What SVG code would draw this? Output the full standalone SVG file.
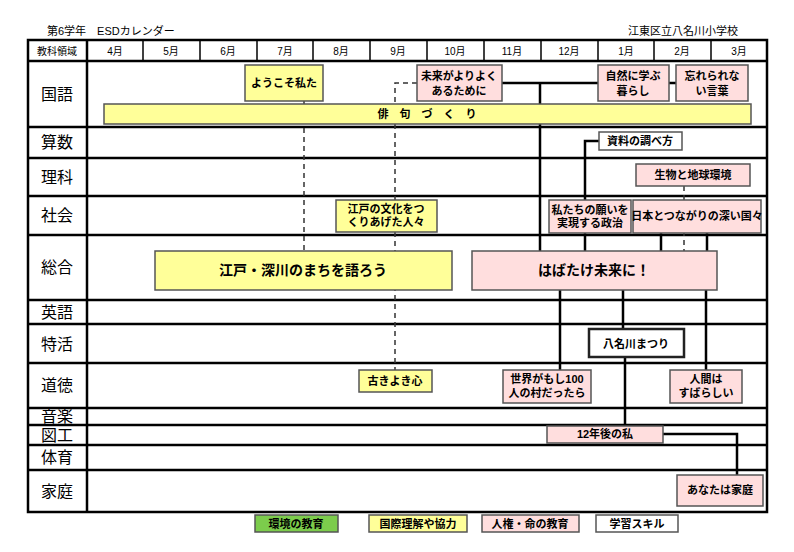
<svg xmlns="http://www.w3.org/2000/svg" width="794" height="552" viewBox="0 0 794 552">
<style>
text{font-family:"Liberation Sans","Noto Sans CJK JP",sans-serif;fill:#000}
.n rect{stroke:#555;stroke-width:1.5}
.y{fill:#ffff99}.p{fill:#ffdede}.w{fill:#fff}.g{fill:#7ccc4c}
.t{font-size:11px;font-weight:bold;text-anchor:middle}
.big{font-size:14px;font-weight:bold;text-anchor:middle}
.rl{font-size:16px;text-anchor:middle}
.mh{font-size:10px;text-anchor:middle}
.grid{stroke:#000;stroke-width:2.5;fill:none}
.c{stroke:#000;stroke-width:2.5;fill:none}
.d{stroke:#333;stroke-width:1.5;stroke-dasharray:5,4;fill:none}
</style>
<rect width="794" height="552" fill="#fff"/>
<text x="47" y="35" font-size="11">第6学年　ESDカレンダー</text>
<text x="738" y="35" font-size="11" text-anchor="end">江東区立八名川小学校</text>
<g id="grid">
<rect x="28" y="40" width="739" height="472" class="grid" stroke-width="3"/>
<line x1="87" y1="40" x2="87" y2="512" class="grid"/>
<g stroke="#000" stroke-width="1.5">
<line x1="143" y1="40" x2="143" y2="61"/><line x1="200" y1="40" x2="200" y2="61"/><line x1="257" y1="40" x2="257" y2="61"/><line x1="313" y1="40" x2="313" y2="61"/><line x1="370" y1="40" x2="370" y2="61"/><line x1="427" y1="40" x2="427" y2="61"/><line x1="484" y1="40" x2="484" y2="61"/><line x1="541" y1="40" x2="541" y2="61"/><line x1="598" y1="40" x2="598" y2="61"/><line x1="654" y1="40" x2="654" y2="61"/><line x1="711" y1="40" x2="711" y2="61"/>
</g>
<g class="grid" stroke-width="2">
<line x1="28" y1="61" x2="767" y2="61"/><line x1="28" y1="127" x2="767" y2="127"/><line x1="28" y1="158" x2="767" y2="158"/><line x1="28" y1="196" x2="767" y2="196"/><line x1="28" y1="235" x2="767" y2="235"/><line x1="28" y1="300" x2="767" y2="300"/><line x1="28" y1="324" x2="767" y2="324"/><line x1="28" y1="363" x2="767" y2="363"/><line x1="28" y1="408" x2="767" y2="408"/><line x1="28" y1="425" x2="767" y2="425"/><line x1="28" y1="445" x2="767" y2="445"/><line x1="28" y1="470" x2="767" y2="470"/>
</g>
<text x="57" y="55" class="mh">教科領域</text>
<text x="115" y="55" class="mh">4月</text><text x="171" y="55" class="mh">5月</text><text x="228" y="55" class="mh">6月</text><text x="285" y="55" class="mh">7月</text><text x="341" y="55" class="mh">8月</text><text x="398" y="55" class="mh">9月</text><text x="455" y="55" class="mh">10月</text><text x="512" y="55" class="mh">11月</text><text x="569" y="55" class="mh">12月</text><text x="626" y="55" class="mh">1月</text><text x="682" y="55" class="mh">2月</text><text x="739" y="55" class="mh">3月</text>
<text x="57" y="100" class="rl">国語</text><text x="57" y="148" class="rl">算数</text><text x="57" y="183" class="rl">理科</text><text x="57" y="221" class="rl">社会</text><text x="57" y="273" class="rl">総合</text><text x="57" y="318" class="rl">英語</text><text x="57" y="350" class="rl">特活</text><text x="57" y="391" class="rl">道徳</text><text x="57" y="422" class="rl" font-size="14">音楽</text><text x="57" y="441" class="rl" font-size="14">図工</text><text x="57" y="463" class="rl">体育</text><text x="57" y="497" class="rl">家庭</text>
</g>
<g id="connectors">
<path class="d" d="M304 101V251"/>
<path class="d" d="M417 83H395V370"/>
<path class="c" d="M502 83H598M669 83H676M540 83V251"/>
<path class="c" d="M599 141H585V251"/>
<path class="d" d="M684 186V251"/>
<path class="c" d="M661 233V251M707 233V251"/>
<path class="c" d="M560 290V370M623 290V329M706 290V370"/>
<path class="c" stroke-width="1.5" d="M625 357V426"/>
<path class="c" stroke-width="1.5" d="M663 434H737V475"/>
</g>
<g id="n1" class="n"><rect x="245" y="65" width="78" height="36" class="y"/><text x="284" y="87" class="t">ようこそ私た</text></g>
<g id="n2" class="n"><rect x="417" y="65" width="85" height="36" class="p"/><text x="459" y="80" class="t">未来がよりよく</text><text x="459" y="95" class="t">あるために</text></g>
<g id="n3" class="n"><rect x="598" y="65" width="71" height="36" class="p"/><text x="633" y="80" class="t">自然に学ぶ</text><text x="633" y="95" class="t">暮らし</text></g>
<g id="n4" class="n"><rect x="676" y="65" width="72" height="36" class="p"/><text x="712" y="80" class="t">忘れられな</text><text x="712" y="95" class="t">い言葉</text></g>
<g id="n5" class="n"><rect x="104" y="104" width="647" height="20" class="y"/><text x="427" y="118" class="t" xml:space="preserve">俳　句　づ　く　り</text></g>
<g id="n6" class="n"><rect x="599" y="132" width="83" height="18" class="w"/><text x="640" y="145" class="t">資料の調べ方</text></g>
<g id="n7" class="n"><rect x="636" y="164" width="114" height="22" class="p"/><text x="693" y="179" class="t">生物と地球環境</text></g>
<g id="n8" class="n"><rect x="336" y="200" width="101" height="32" class="y"/><text x="386" y="213" class="t">江戸の文化をつ</text><text x="386" y="226" class="t">くりあげた人々</text></g>
<g id="n9" class="n"><rect x="549" y="200" width="82" height="33" class="p"/><text x="590" y="214" class="t" font-size="9.5">私たちの願いを</text><text x="590" y="227" class="t" font-size="9.5">実現する政治</text></g>
<g id="n10" class="n"><rect x="633" y="200" width="128" height="33" class="p"/><text x="697" y="220" class="t" font-size="10">日本とつながりの深い国々</text></g>
<g id="n11" class="n"><rect x="155" y="251" width="297" height="39" class="y"/><text x="303" y="275" class="big">江戸・深川のまちを語ろう</text></g>
<g id="n12" class="n"><rect x="472" y="251" width="245" height="39" class="p"/><text x="594" y="275" class="big">はばたけ未来に！</text></g>
<g id="n13" class="n"><rect x="589" y="329" width="95" height="28" class="w" style="stroke:#222;stroke-width:2.5"/><text x="636" y="348" class="t" font-size="12">八名川まつり</text></g>
<g id="n14" class="n"><rect x="359" y="370" width="73" height="22" class="y"/><text x="395" y="385" class="t">古きよき心</text></g>
<g id="n15" class="n"><rect x="503" y="370" width="88" height="33" class="p"/><text x="547" y="383" class="t">世界がもし100</text><text x="547" y="397" class="t">人の村だったら</text></g>
<g id="n16" class="n"><rect x="670" y="370" width="72" height="33" class="p"/><text x="706" y="383" class="t">人間は</text><text x="706" y="397" class="t">すばらしい</text></g>
<g id="n17" class="n"><rect x="547" y="426" width="116" height="17" class="p"/><text x="605" y="438" class="t">12年後の私</text></g>
<g id="n18" class="n"><rect x="677" y="475" width="86" height="31" class="p"/><text x="720" y="494" class="t">あなたは家庭</text></g>
<g id="legend" class="n">
<rect x="255" y="515" width="83" height="17" class="g"/><text x="296" y="528" class="t">環境の教育</text>
<rect x="369" y="515" width="98" height="17" class="y"/><text x="418" y="528" class="t">国際理解や協力</text>
<rect x="482" y="515" width="97" height="17" class="p"/><text x="530" y="528" class="t">人権・命の教育</text>
<rect x="596" y="515" width="82" height="17" class="w"/><text x="637" y="528" class="t">学習スキル</text>
</g>
</svg>
